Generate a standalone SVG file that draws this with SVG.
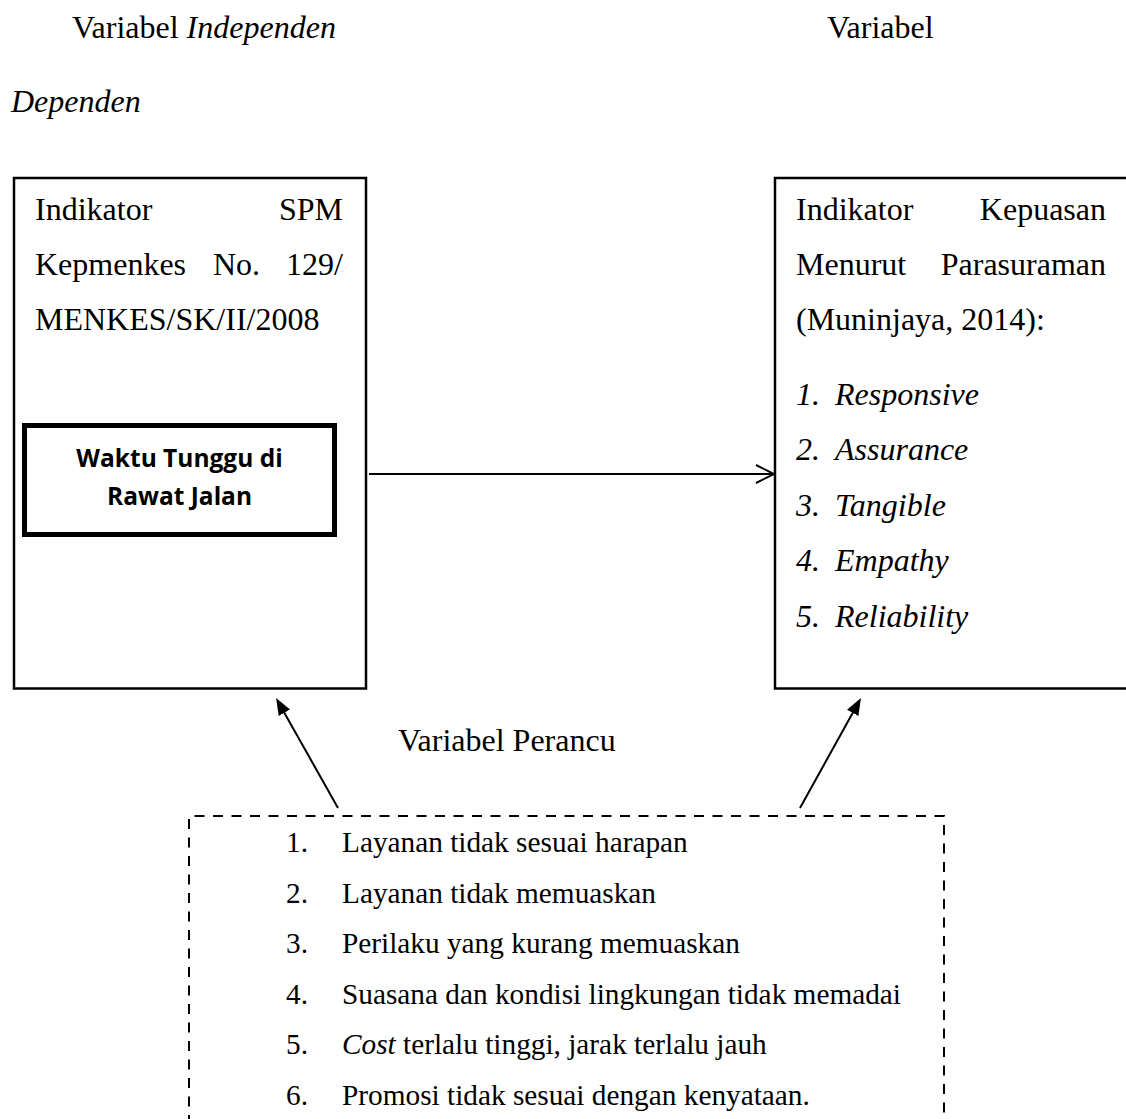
<svg xmlns="http://www.w3.org/2000/svg" width="1126" height="1119" viewBox="0 0 1126 1119">
<style>
  .t { font-family: "Liberation Serif", "Times New Roman", serif; font-size: 32px; fill: #000; }
  .s { font-family: "Liberation Serif", "Times New Roman", serif; font-size: 29.3px; fill: #000; }
  .i { font-style: italic; }
  .b { font-family: "Open Sans", "Noto Sans", sans-serif; font-weight: bold; font-size: 24.5px; fill: #000; }
  .box { fill: #fff; stroke: #000; stroke-width: 2.5; }
  .thick { fill: #fff; stroke: #000; stroke-width: 5; }
  .dash { fill: none; stroke: #000; stroke-width: 2; stroke-dasharray: 10 8.5; }
  .conn { stroke: #000; stroke-width: 2; fill: none; }
</style>
<defs>
  <marker id="tri" markerUnits="userSpaceOnUse" markerWidth="18" markerHeight="14" refX="1" refY="6.5" orient="auto">
    <path d="M0,0 L17,6.5 L0,13 z" fill="#000"/>
  </marker>
  <marker id="open" markerUnits="userSpaceOnUse" markerWidth="22" markerHeight="22" refX="19" refY="10" orient="auto">
    <path d="M1,1 L19,10 L1,19" fill="none" stroke="#000" stroke-width="2"/>
  </marker>
</defs>
<rect width="1126" height="1119" fill="#fff"/>

<g id="header">
  <text class="t" x="72" y="38">Variabel <tspan class="i">Independen</tspan></text>
  <text class="t" x="827" y="38">Variabel</text>
  <text class="t i" x="11" y="112">Dependen</text>
</g>

<g id="node-independen">
  <rect class="box" x="14" y="178" width="352" height="510.5"/>
  <text class="t" x="35" y="220">Indikator</text>
  <text class="t" x="343" y="220" text-anchor="end">SPM</text>
  <text class="t" x="35" y="275">Kepmenkes</text>
  <text class="t" x="213" y="275">No.</text>
  <text class="t" x="343" y="275" text-anchor="end">129/</text>
  <text class="t" x="35" y="330">MENKES/SK/II/2008</text>
</g>

<g id="node-waktu">
  <rect class="thick" x="24.5" y="425.5" width="310" height="109"/>
  <text class="b" x="179.5" y="467" text-anchor="middle">Waktu Tunggu di</text>
  <text class="b" x="179.5" y="505" text-anchor="middle">Rawat Jalan</text>
</g>

<g id="node-dependen">
  <rect class="box" x="775" y="178" width="360" height="510.5"/>
  <text class="t" x="796" y="220">Indikator</text>
  <text class="t" x="1106" y="220" text-anchor="end">Kepuasan</text>
  <text class="t" x="796" y="275">Menurut</text>
  <text class="t" x="1106" y="275" text-anchor="end">Parasuraman</text>
  <text class="t" x="796" y="330">(Muninjaya, 2014):</text>
  <text class="t i" x="796" y="405">1.</text><text class="t i" x="835" y="405">Responsive</text>
  <text class="t i" x="796" y="460">2.</text><text class="t i" x="835" y="460">Assurance</text>
  <text class="t i" x="796" y="516">3.</text><text class="t i" x="835" y="516">Tangible</text>
  <text class="t i" x="796" y="571">4.</text><text class="t i" x="835" y="571">Empathy</text>
  <text class="t i" x="796" y="627">5.</text><text class="t i" x="835" y="627">Reliability</text>
</g>

<g id="label-perancu">
  <text class="t" x="398" y="751">Variabel Perancu</text>
</g>

<g id="node-perancu">
  <path class="dash" d="M189,1125 L189,816 L944,816 L944,1125"/>
  <text class="s" x="286" y="852">1.</text><text class="s" x="342" y="852">Layanan tidak sesuai harapan</text>
  <text class="s" x="286" y="903">2.</text><text class="s" x="342" y="903">Layanan tidak memuaskan</text>
  <text class="s" x="286" y="953">3.</text><text class="s" x="342" y="953">Perilaku yang kurang memuaskan</text>
  <text class="s" x="286" y="1004">4.</text><text class="s" x="342" y="1004">Suasana dan kondisi lingkungan tidak memadai</text>
  <text class="s" x="286" y="1054">5.</text><text class="s" x="342" y="1054"><tspan class="i">Cost</tspan> terlalu tinggi, jarak terlalu jauh</text>
  <text class="s" x="286" y="1105">6.</text><text class="s" x="342" y="1105">Promosi tidak sesuai dengan kenyataan.</text>
</g>

<g id="connectors">
  <line class="conn" x1="369" y1="474" x2="774" y2="474" marker-end="url(#open)"/>
  <line class="conn" x1="338" y1="808" x2="283.9" y2="711.9" marker-end="url(#tri)"/>
  <line class="conn" x1="800" y1="808" x2="853.2" y2="712" marker-end="url(#tri)"/>
</g>
</svg>
